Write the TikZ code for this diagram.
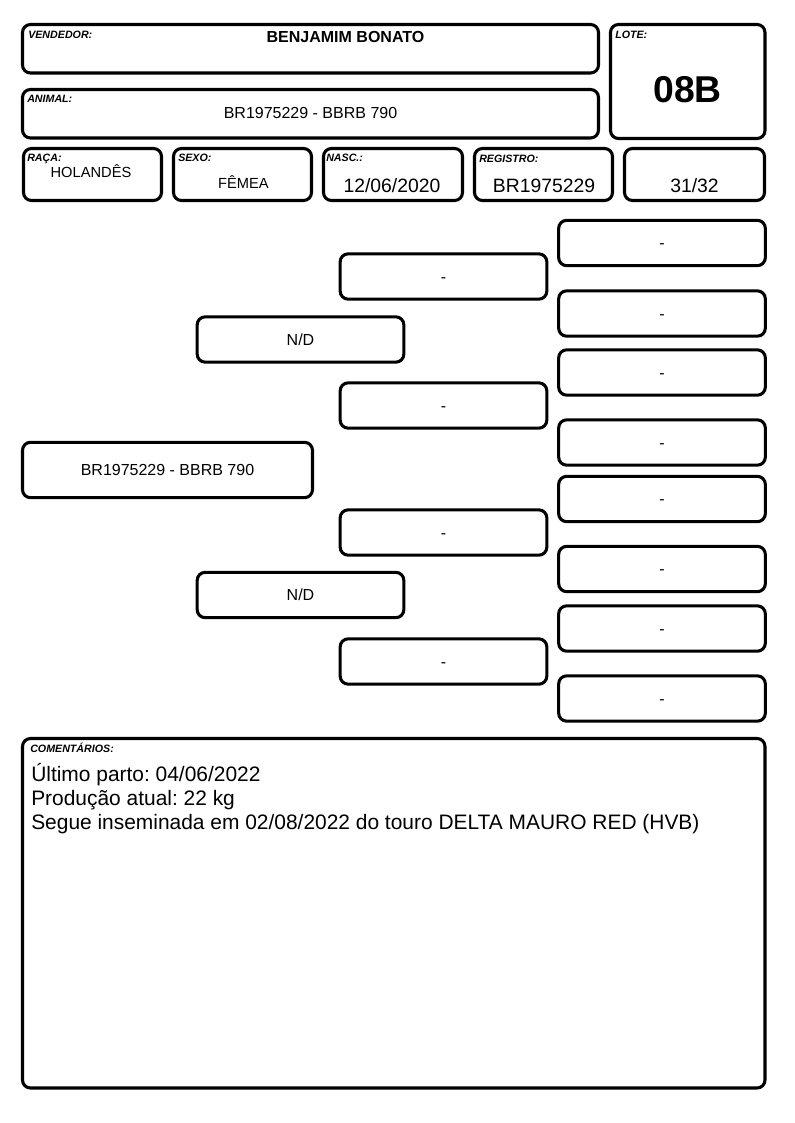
\documentclass[tikz,border=0pt]{standalone}
\usepackage{fontspec}
\setmainfont{Liberation Sans}
\frenchspacing

\begin{document}
\begin{tikzpicture}[x=0.75pt, y=-0.75pt,
        caixa/.style={draw, line width=2.3pt, rounded corners=6pt},
        rotulo/.style={anchor=base west, inner sep=0pt, font=\fontsize{8}{9}\selectfont\bfseries\itshape},
        valor/.style={anchor=base, inner sep=0pt},
        ped/.style={caixa, minimum width=155pt, minimum height=34pt, inner sep=0pt, text height=8.6pt, text depth=0pt, font=\fontsize{12}{14}\selectfont}]
        \useasboundingbox (0,0) rectangle (794,1123);

        % Note: coordinates are pixels of the sheet, y grows downwards
        % Vendedor, animal & lote
        \draw[caixa] (22.5,24.5) rectangle (598.5,73);
        \draw[caixa] (22.5,89.5) rectangle (598.5,138);
        \draw[caixa] (610.5,24.5) rectangle (765,138.5);

        \node[rotulo] (lvend) at (28,39) {VENDEDOR:};
        \node[valor, font=\fontsize{12}{14}\selectfont\bfseries] (vend) at (345.5,43) {BENJAMIM BONATO};
        \node[rotulo] (lanim) at (27,103) {ANIMAL:};
        \node[valor, font=\fontsize{12}{14}\selectfont] (anim) at (310.5,119) {BR1975229 - BBRB 790};
        \node[rotulo] (llote) at (615,39) {LOTE:};
        \node[valor, font=\fontsize{28}{32}\selectfont\bfseries] (lote) at (687.5,103) {08B};

        % Raca, sexo, nascimento, registro & grau
        \draw[caixa] (23.5,148.5) rectangle (161.5,200.5);
        \draw[caixa] (173.5,148.5) rectangle (311.5,200.5);
        \draw[caixa] (323.5,148.5) rectangle (462.5,200.5);
        \draw[caixa] (474.5,148.5) rectangle (612.5,200.5);
        \draw[caixa] (624.5,148.5) rectangle (764.5,200.5);

        \node[rotulo] (lraca) at (27,162) {RAÇA:};
        \node[valor, font=\fontsize{11}{13}\selectfont] (raca) at (91,178) {HOLANDÊS};
        \node[rotulo] (lsexo) at (178,162) {SEXO:};
        \node[valor, font=\fontsize{11}{13}\selectfont] (sexo) at (243.5,189) {FÊMEA};
        \node[rotulo] (lnasc) at (326,162) {NASC.:};
        \node[valor, font=\fontsize{14.5}{17}\selectfont] (nasc) at (392,193) {12/06/2020};
        \node[rotulo] (lreg) at (479,163) {REGISTRO:};
        \node[valor, font=\fontsize{14.5}{17}\selectfont] (reg) at (544,193) {BR1975229};
        \node[valor, font=\fontsize{14.5}{17}\selectfont] (grau) at (694.5,193) {31/32};

        % Genealogia
        \node[ped, minimum width=217.5pt, minimum height=41.5pt] (animal) at (167.5,470) {BR1975229 - BBRB 790};

        \node[ped] (pai) at (300.5,339.5) {N/D};
        \node[ped] (mae) at (300.5,595) {N/D};

        \node[ped] (avo1) at (443.5,276.5) {-};
        \node[ped] (avo2) at (443.5,405.5) {-};
        \node[ped] (avo3) at (443.5,532.5) {-};
        \node[ped] (avo4) at (443.5,661.5) {-};

        \foreach \y [count=\i] in {243,313.5,372.5,442.5,499,569,628.5,698.5}
            \node[ped] (bisavo\i) at (662,\y) {-};

        % Comentarios
        \draw[caixa] (22.5,738.5) rectangle (765,1088);
        \node[rotulo] (lcom) at (30,752) {COMENTÁRIOS:};
        \node[anchor=base west, inner sep=0pt, font=\fontsize{15.7}{18}\selectfont] (com1) at (31,781) {Último parto: 04/06/2022};
        \node[anchor=base west, inner sep=0pt, font=\fontsize{15.7}{18}\selectfont] (com2) at (31,805) {Produção atual: 22 kg};
        \node[anchor=base west, inner sep=0pt, font=\fontsize{15.7}{18}\selectfont] (com3) at (31,829) {Segue inseminada em 02/08/2022 do touro DELTA MAURO RED (HVB)};
    \end{tikzpicture}
\end{document}
